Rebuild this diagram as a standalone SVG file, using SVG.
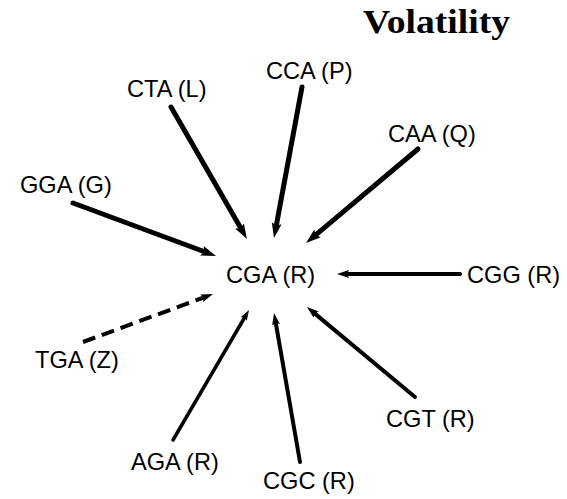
<svg xmlns="http://www.w3.org/2000/svg" width="567" height="499" viewBox="0 0 567 499">
<style>
.lbl{font-family:"Liberation Sans",Arial,Helvetica,sans-serif;font-size:23.6px;fill:#000}
.title{font-family:"Liberation Serif","Times New Roman",serif;font-weight:bold;font-size:33px;fill:#000}
.arr{stroke:#000;fill:none;stroke-linecap:round;marker-end:url(#ah)}
.dash{stroke-dasharray:13 7;stroke-linecap:butt}
</style>
<defs>
<marker id="ah" markerUnits="strokeWidth" markerWidth="4" markerHeight="3" viewBox="0 -1.5 4 3" refX="1" refY="0" orient="auto">
<path d="M0,-1 L3,0 L0,1 L0.5,0 z" fill="#000"/>
</marker>
</defs>
<rect width="567" height="499" fill="#fff"/>
<text class="title" x="363" y="33" textLength="147" lengthAdjust="spacingAndGlyphs">Volatility</text>
<g id="connectors">
<line class="arr" x1="171" y1="107" x2="242" y2="230.3" stroke-width="5"/>
<line class="arr" x1="302" y1="87" x2="275.8" y2="228.2" stroke-width="5"/>
<line class="arr" x1="418" y1="149" x2="313.7" y2="236.6" stroke-width="5"/>
<line class="arr" x1="73" y1="203" x2="206.6" y2="252.5" stroke-width="5"/>
<line class="arr dash" x1="83" y1="342" x2="205.5" y2="296.8" stroke-width="4"/>
<line class="arr" x1="460" y1="274" x2="345" y2="274" stroke-width="4"/>
<line class="arr" x1="415" y1="397" x2="313.1" y2="312.1" stroke-width="4"/>
<line class="arr" x1="300" y1="462" x2="275.4" y2="320.9" stroke-width="4"/>
<line class="arr" x1="173" y1="440" x2="245.5" y2="316" stroke-width="3.5"/>
</g>
<g id="CGA"><text class="lbl" x="226" y="283">CGA (R)</text></g>
<g id="CGG"><text class="lbl" x="467" y="283">CGG (R)</text></g>
<g id="TGA"><text class="lbl" x="35" y="368">TGA (Z)</text></g>
<g id="GGA"><text class="lbl" x="20" y="193">GGA (G)</text></g>
<g id="CTA"><text class="lbl" x="127" y="97">CTA (L)</text></g>
<g id="CCA"><text class="lbl" x="266" y="79">CCA (P)</text></g>
<g id="CAA"><text class="lbl" x="388" y="142">CAA (Q)</text></g>
<g id="CGT"><text class="lbl" x="386" y="427">CGT (R)</text></g>
<g id="AGA"><text class="lbl" x="131" y="470">AGA (R)</text></g>
<g id="CGC"><text class="lbl" x="263" y="489">CGC (R)</text></g>
</svg>
